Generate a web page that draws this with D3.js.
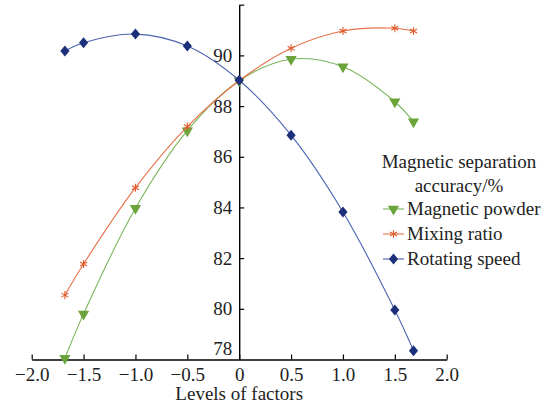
<!DOCTYPE html>
<html>
<head>
<meta charset="utf-8">
<script src="https://cdn.jsdelivr.net/npm/d3@7"></script>
<style>
body { margin: 0; background: #fff; }
</style>
</head>
<body>
<svg id="chart" width="555" height="414"></svg>
<script>
// factor levels (coded)
var levels = [-1.68, -1.5, -1, -0.5, 0, 0.5, 1, 1.5, 1.68];
var powder = [78.05, 79.8, 83.97, 87.03, 89.0, 89.85, 89.55, 88.17, 87.38];
var mixing = [80.54, 81.77, 84.78, 87.19, 89.0, 90.28, 90.96, 91.07, 90.96];
var speed  = [90.17, 90.5, 90.84, 90.37, 89.02, 86.85, 83.82, 79.95, 78.35];
var xTicks = [-2, -1.5, -1, -0.5, 0, 0.5, 1, 1.5, 2];
var yTicks = [80, 82, 84, 86, 88, 90, 92];
var seriesNames = ["Magnetic powder", "Mixing ratio", "Rotating speed"];

var FONT = "Liberation Serif, DejaVu Serif, serif";
var svg = d3.select("#chart").attr("font-family", FONT);

var x = d3.scaleLinear().domain([-2, 2]).range([31.7, 446.7]);
var y = d3.scaleLinear().domain([78, 92]).range([359.5, 4.7]);

var series = [
  {name: seriesNames[0], vals: powder, line: "#7ab55c", mark: "#6aa43a", sym: "tri"},
  {name: seriesNames[1], vals: mixing, line: "#e8714a", mark: "#e05a2b", sym: "ast"},
  {name: seriesNames[2], vals: speed, line: "#4a62b0", mark: "#1c2f7a", sym: "dia"}
]

function drawMarker(g, s, cx, cy) {
  if (s.sym == "tri") {
    g.append("path").attr("d", d3.symbol().type(d3.symbolTriangle).size(55)())
      .attr("transform", "translate(" + cx + "," + (cy) + ") rotate(180)")
      .attr("fill", s.mark)
  } else if (s.sym == "dia") {
    // square turned 45deg and stretched a bit vertically
    g.append("path").attr("d", d3.symbol().type(d3.symbolSquare).size(42)())
      .attr("transform", "translate(" + cx + "," + cy + ") scale(1,1.2) rotate(45)")
      .attr("fill", s.mark)
  } else {
    g.append("path").attr("d", d3.symbol().type(d3.symbolAsterisk).size(45)())
      .attr("transform", "translate(" + cx + "," + cy + ")")
      .attr("fill", "none").attr("stroke", s.mark).attr("stroke-width", 1.1)
  }
}

function txt(sel) {
  sel.attr("font-family", FONT).attr("font-size", 19).attr("fill", "#222")
}

// axes
var xAxis = svg.append("g")
  .attr("transform", "translate(0," + y(78) + ")")
  .call(d3.axisBottom(x).tickValues(xTicks).tickSizeInner(-5).tickSizeOuter(0).tickPadding(8)
    .tickFormat(function(d){ return d == 0 ? "0" : d3.format(".1f")(d) }))
xAxis.attr("font-family", FONT)
xAxis.select(".domain").attr("stroke-width", 1.4)
xAxis.selectAll(".tick line").attr("stroke-width", 1.2)
xAxis.selectAll("text").call(txt)

var yAxis = svg.append("g")
  .attr("transform", "translate(" + x(0) + ",0)")
  .call(d3.axisLeft(y).tickValues(yTicks).tickSizeInner(-5).tickSizeOuter(0).tickPadding(7)
    .tickFormat(function(d){ return d == 92 ? "" : d }))
yAxis.attr("font-family", FONT)
yAxis.select(".domain").attr("stroke-width", 1.4)
yAxis.selectAll(".tick line").attr("stroke-width", 1.2)
yAxis.selectAll("text").call(txt)
// 78 label sits just above the x axis, no tick
yAxis.append("text").attr("x", -7).attr("y", y(78) - 5)
  .attr("text-anchor", "end").call(txt).text("78")

svg.append("text").attr("x", x(0)).attr("y", 400)
  .attr("text-anchor", "middle").call(txt).text("Levels of factors")

// curves + markers
var line = d3.line()
  .x(function(d){ return x(d[0]) })
  .y(function(d){ return y(d[1]) })
  .curve(d3.curveCatmullRom.alpha(0.5))

series.forEach(function(s) {
  var pts = levels.map(function(l, i){ return [l, s.vals[i]] })
  svg.append("path").datum(pts).attr("d", line)
    .attr("fill", "none").attr("stroke", s.line).attr("stroke-width", 1.1)
  var g = svg.append("g")
  pts.forEach(function(p){ drawMarker(g, s, x(p[0]), y(p[1])) })
})

// legend
var lg = svg.append("g")
lg.append("text").attr("x", 459).attr("y", 168).attr("text-anchor", "middle")
  .call(txt).text("Magnetic separation")
lg.append("text").attr("x", 459).attr("y", 192).attr("text-anchor", "middle")
  .call(txt).text("accuracy/%")
series.forEach(function(s, i) {
  var yy = 209 + i * 25
  lg.append("line").attr("x1", 383).attr("x2", 404).attr("y1", yy).attr("y2", yy)
    .attr("stroke", s.line).attr("stroke-width", 1.1)
  drawMarker(lg, s, 393.5, yy)
  lg.append("text").attr("x", 407).attr("y", yy + 6).call(txt).text(s.name)
})
</script>
</body>
</html>
